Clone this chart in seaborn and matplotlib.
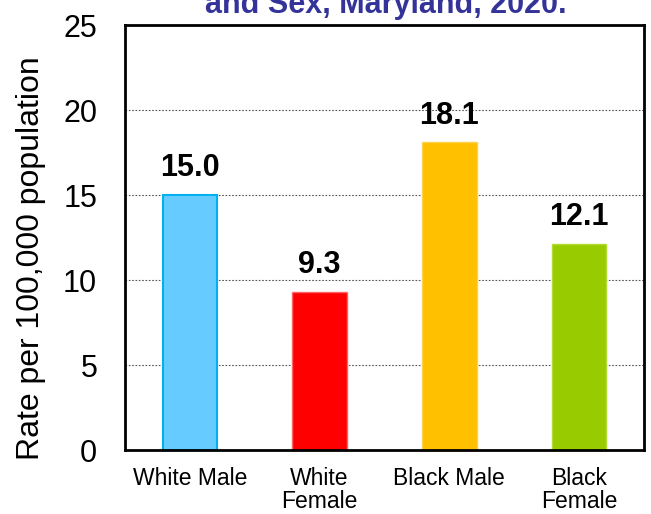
import numpy as np
import pandas as pd
import matplotlib
matplotlib.use('Agg')
import matplotlib.pyplot as plt
import seaborn as sns

# data
groups = ['White Male', 'White\nFemale', 'Black Male', 'Black\nFemale']
rates = [15.0, 9.3, 18.1, 12.1]
fill_colors = ['#66CCFF', '#FF0000', '#FFC000', '#99CC00']
edge_colors = ['#00B0F0', '#FF6666', '#FFD24D', '#B3DB33']
title_text = 'and Sex, Maryland, 2020.'
ylabel_text = 'Rate per 100,000 population'

sns.set_style('white')
plt.rcParams['font.family'] = ['Liberation Sans', 'DejaVu Sans']
plt.rcParams['text.color'] = 'black'
plt.rcParams['xtick.color'] = 'black'
plt.rcParams['ytick.color'] = 'black'
plt.rcParams['axes.labelcolor'] = 'black'

df = pd.DataFrame({'group': groups, 'rate': rates})

fig = plt.figure(figsize=(6.51, 5.14), dpi=100)
ax = fig.add_axes([0.192, 0.1245, 0.797, 0.8265])

sns.barplot(data=df, x='group', y='rate', hue='group', palette=fill_colors,
            width=0.42, legend=False, ax=ax, saturation=1)
for bar, ec in zip(ax.patches, edge_colors):
    bar.set_edgecolor(ec)
    bar.set_linewidth(1.5 if ec == '#00B0F0' else 1.0)
    ax.text(bar.get_x() + bar.get_width() / 2, bar.get_height() + 0.7,
            f'{bar.get_height():.1f}', ha='center', va='bottom',
            fontsize=22, fontweight='bold', color='black')

ax.set_ylim(0, 25)
ax.set_xlim(-0.5, 3.5)
ax.set_yticks([0, 5, 10, 15, 20, 25])
ax.tick_params(axis='y', labelsize=22, length=0, pad=20)
ax.tick_params(axis='x', labelsize=16.5, length=0, pad=12)
for t in ax.get_xticklabels():
    t.set_linespacing(1.0)
ax.set_xlabel('')
ax.set_ylabel(ylabel_text, fontsize=23)
ax.yaxis.set_label_coords(-0.152, 0.452)

for v in [5, 10, 15, 20]:
    ax.axhline(v, color='#555555', linestyle=(0, (1.5, 1.5)), linewidth=0.8, zorder=0)
for s in ax.spines.values():
    s.set_color('black')
    s.set_linewidth(2)

fig.text(0.592, 1 - 13 / 514, title_text, ha='center', va='baseline',
         fontsize=22, fontweight='bold', color='#333399')

fig.savefig('out.png', dpi=100)
